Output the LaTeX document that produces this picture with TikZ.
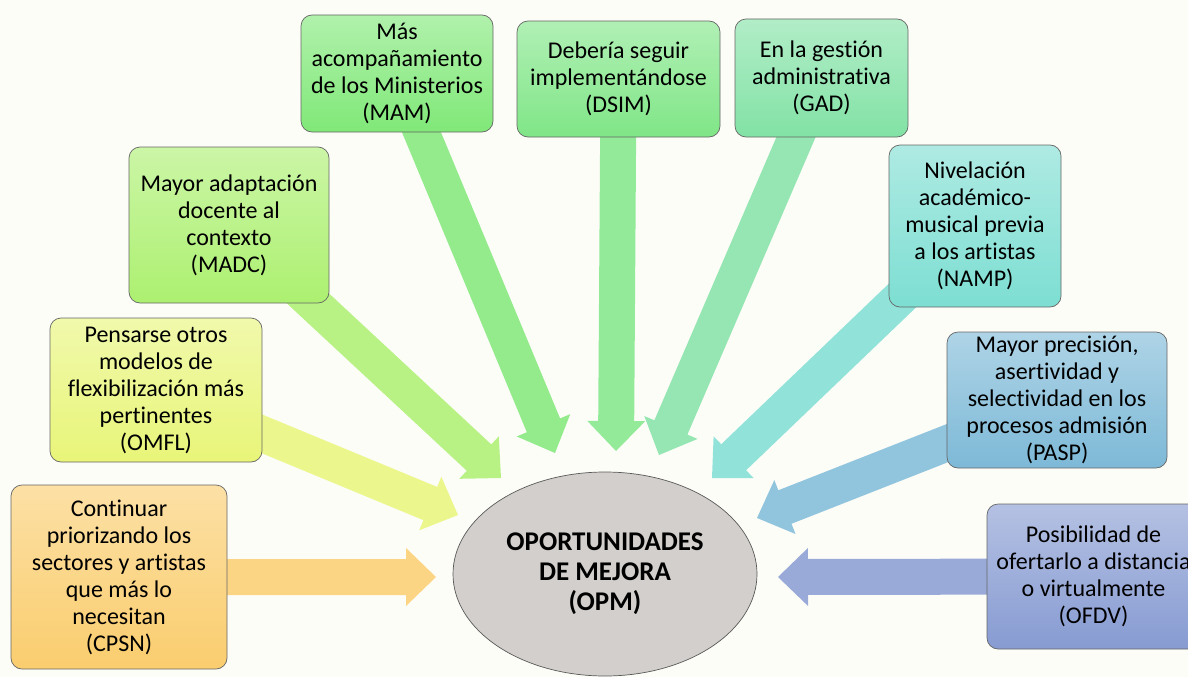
\documentclass[tikz,border=0pt]{standalone}
\usepackage{fontspec}
\setmainfont{Carlito}[Ligatures={NoCommon}]
\usetikzlibrary{calc,backgrounds,shapes.geometric}
\definecolor{cFondo}{RGB}{253,253,248}
\definecolor{cOPM}{RGB}{210,207,204}
\definecolor{ccpsn}{RGB}{250,205,110}
\definecolor{comfl}{RGB}{232,245,120}
\definecolor{cmadc}{RGB}{172,240,112}
\definecolor{cmam}{RGB}{128,232,120}
\definecolor{cdsim}{RGB}{128,230,135}
\definecolor{cgad}{RGB}{130,226,165}
\definecolor{cnamp}{RGB}{125,222,210}
\definecolor{cpasp}{RGB}{125,185,215}
\definecolor{cofdv}{RGB}{135,155,210}
\begin{document}
\begin{tikzpicture}[x=1pt,y=-1pt,line join=round,font=\fontsize{24}{27}\selectfont]
	\tikzset{caja/.style={draw=black!60,line width=0.7pt,rounded corners=11pt,top color=#1!62!white,bottom color=#1,align=center,inner sep=0pt}}
	\useasboundingbox (0,0) rectangle (1188,677);
	%Cajas
	\node[caja=ccpsn,minimum width=216,minimum height=184] (cpsn) at (119,577) {Continuar\\priorizando los\\sectores y artistas\\que más lo\\necesitan\\(CPSN)};
	\node[caja=comfl,minimum width=212,minimum height=144] (omfl) at (156,390) {Pensarse otros\\modelos de\\flexibilización más\\pertinentes\\(OMFL)};
	\node[caja=cmadc,minimum width=200,minimum height=156] (madc) at (229,225) {Mayor adaptación\\docente al\\contexto\\(MADC)};
	\node[caja=cmam,minimum width=192,minimum height=117] (mam) at (397,73.5) {Más\\acompañamiento\\de los Ministerios\\(MAM)};
	\node[caja=cdsim,minimum width=203,minimum height=116] (dsim) at (618.5,79) {Debería seguir\\implementándose\\(DSIM)};
	\node[caja=cgad,minimum width=173,minimum height=118] (gad) at (821.5,78) {En la gestión\\administrativa\\(GAD)};
	\node[caja=cnamp,minimum width=172,minimum height=162] (namp) at (975,226) {Nivelación\\académico-\\musical previa\\a los artistas\\(NAMP)};
	\node[caja=cpasp,minimum width=220,minimum height=136] (pasp) at (1057,400) {Mayor precisión,\\asertividad y\\selectividad en los\\procesos admisión\\(PASP)};
	\node[caja=cofdv,minimum width=213,minimum height=145] (ofdv) at (1093.5,576.5) {Posibilidad de\\ofertarlo a distancia\\o virtualmente\\(OFDV)};
	%Elipse
	\node[ellipse,draw=black!65,line width=0.7pt,fill=cOPM,minimum width=304,minimum height=204,inner sep=0pt,align=center,font=\fontsize{27}{30}\selectfont\bfseries] (opm) at (605,574) {OPORTUNIDADES\\DE MEJORA\\(OPM)};
	%Puntas de las flechas
	\coordinate (pcpsn) at (436,577);
	\coordinate (pomfl) at (458,515);
	\coordinate (pmadc) at (501,478);
	\coordinate (pmam) at (555,453);
	\coordinate (pdsim) at (616,451);
	\coordinate (pgad) at (659,455);
	\coordinate (pnamp) at (712,478);
	\coordinate (ppasp) at (757,518);
	\coordinate (pofdv) at (778,577);
	%Flechas
	\begin{scope}[on background layer]
		\fill[cFondo] (0,0) rectangle (1188,677);
		\foreach \n in {cpsn,omfl,madc,mam,dsim,gad,namp,pasp,ofdv}{
			\coordinate (b\n) at ($(p\n)!30pt!(\n.center)$);
			\fill[c\n!85!white] ($(\n.center)!18pt!90:(p\n)$) -- ($(b\n)!18pt!90:(p\n)$) -- ($(b\n)!29pt!90:(p\n)$) -- (p\n) -- ($(b\n)!29pt!-90:(p\n)$) -- ($(b\n)!18pt!-90:(p\n)$) -- ($(\n.center)!18pt!-90:(p\n)$) -- cycle;
		}
	\end{scope}
\end{tikzpicture}
\end{document}
